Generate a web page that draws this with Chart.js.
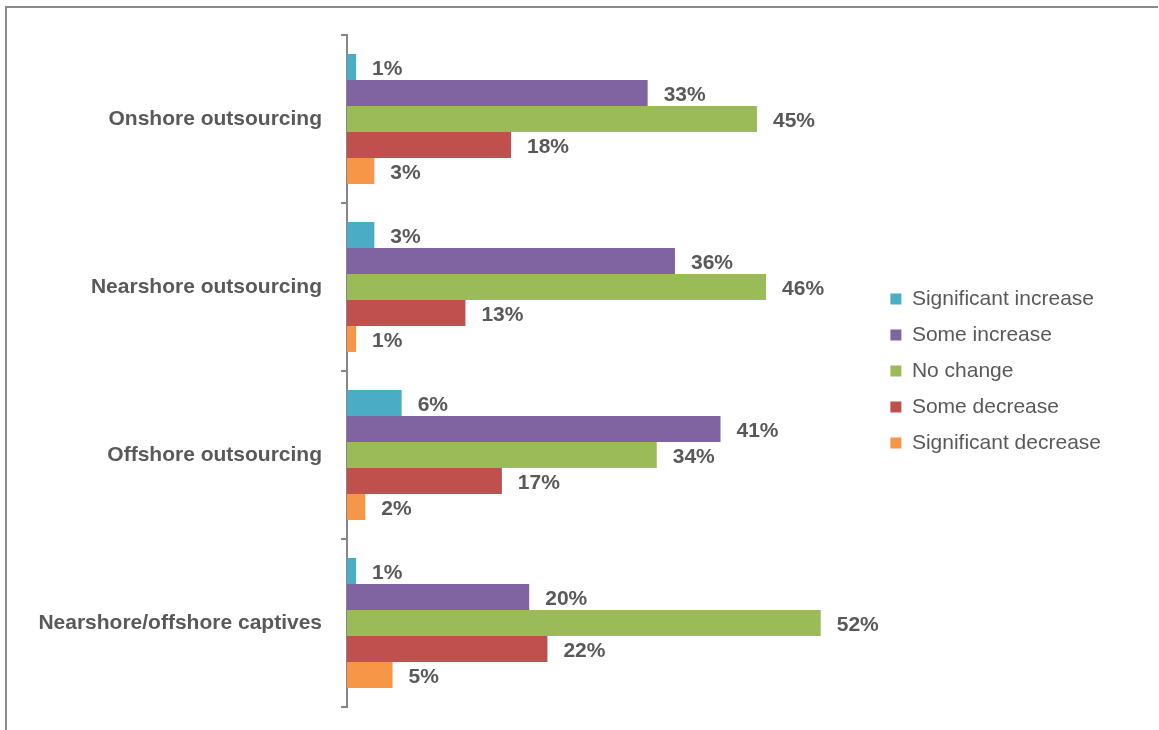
<!DOCTYPE html>
<html>
<head>
<meta charset="utf-8">
<script src="https://cdn.jsdelivr.net/npm/chart.js@4.4.1/dist/chart.umd.min.js"></script>
<style>
  html, body { margin: 0; padding: 0; background: #fff; }
  #wrap { position: relative; width: 1159px; height: 730px; overflow: hidden; }
  #frame { position: absolute; left: 5px; top: 6px; width: 1151px; height: 740px;
           border-top: 2px solid #8a8a8a; border-left: 2px solid #8a8a8a; pointer-events: none; }
</style>
</head>
<body>
<div id="wrap">
  <canvas id="myChart" width="1159" height="730"></canvas>
  <div id="frame"></div>
</div>
<script>
var categories = ["Onshore outsourcing", "Nearshore outsourcing", "Offshore outsourcing", "Nearshore/offshore captives"];
var seriesNames = ["Significant increase", "Some increase", "No change", "Some decrease", "Significant decrease"];
var sigIncrease = [1, 3, 6, 1];
var someIncrease = [33, 36, 41, 20];
var noChange = [45, 46, 34, 52];
var someDecrease = [18, 13, 17, 22];
var sigDecrease = [3, 1, 2, 5];
var barColors = ["#4BACC6", "#8064A2", "#9BBB59", "#C0504D", "#F79646"];

var allValues = [sigIncrease, someIncrease, noChange, someDecrease, sigDecrease];
var textGray = "#595959";
var axisGray = "#868686";

Chart.defaults.font.family = "'Liberation Sans', Arial, sans-serif";

// draws the "NN%" labels after each bar
var valueLabels = {
  id: "valueLabels",
  afterDatasetsDraw: function(chart) {
    var ctx = chart.ctx;
    ctx.save();
    ctx.font = "bold 21px 'Liberation Sans', Arial, sans-serif";
    ctx.fillStyle = textGray;
    ctx.textAlign = "left";
    ctx.textBaseline = "middle";
    chart.data.datasets.forEach(function(ds, i) {
      var meta = chart.getDatasetMeta(i);
      meta.data.forEach(function(bar, j) {
        ctx.fillText(ds.data[j] + "%", bar.x + 16, bar.y + 2);
      });
    });
    ctx.restore();
  }
};

new Chart("myChart", {
  type: "bar",
  data: {
    labels: categories,
    datasets: seriesNames.map(function(name, i) {
      return {
        label: name,
        data: allValues[i],
        backgroundColor: barColors[i],
        borderWidth: 0,
        barPercentage: 1.0,
        categoryPercentage: 0.774
      };
    })
  },
  options: {
    indexAxis: "y",
    responsive: false,
    animation: false,
    layout: { padding: { left: 0, top: 35, bottom: 23, right: 48 } },
    plugins: {
      tooltip: { enabled: false },
      legend: {
        position: "right",
        labels: {
          boxWidth: 11,
          boxHeight: 11,
          padding: 15,
          color: textGray,
          font: { size: 21 }
        }
      }
    },
    scales: {
      x: {
        display: false,
        min: 0,
        max: 58
      },
      y: {
        afterFit: function(scale) {
          scale.width = 347;
          scale.paddingTop = 0;
          scale.paddingBottom = 0;
        },
        border: { display: true, color: axisGray, width: 2 },
        grid: {
          offset: true,
          drawOnChartArea: false,
          drawTicks: true,
          tickLength: 6,
          color: axisGray,
          lineWidth: 2
        },
        ticks: {
          padding: 19,
          color: textGray,
          font: { size: 21, weight: "bold" }
        }
      }
    }
  },
  plugins: [valueLabels]
});
</script>
</body>
</html>
